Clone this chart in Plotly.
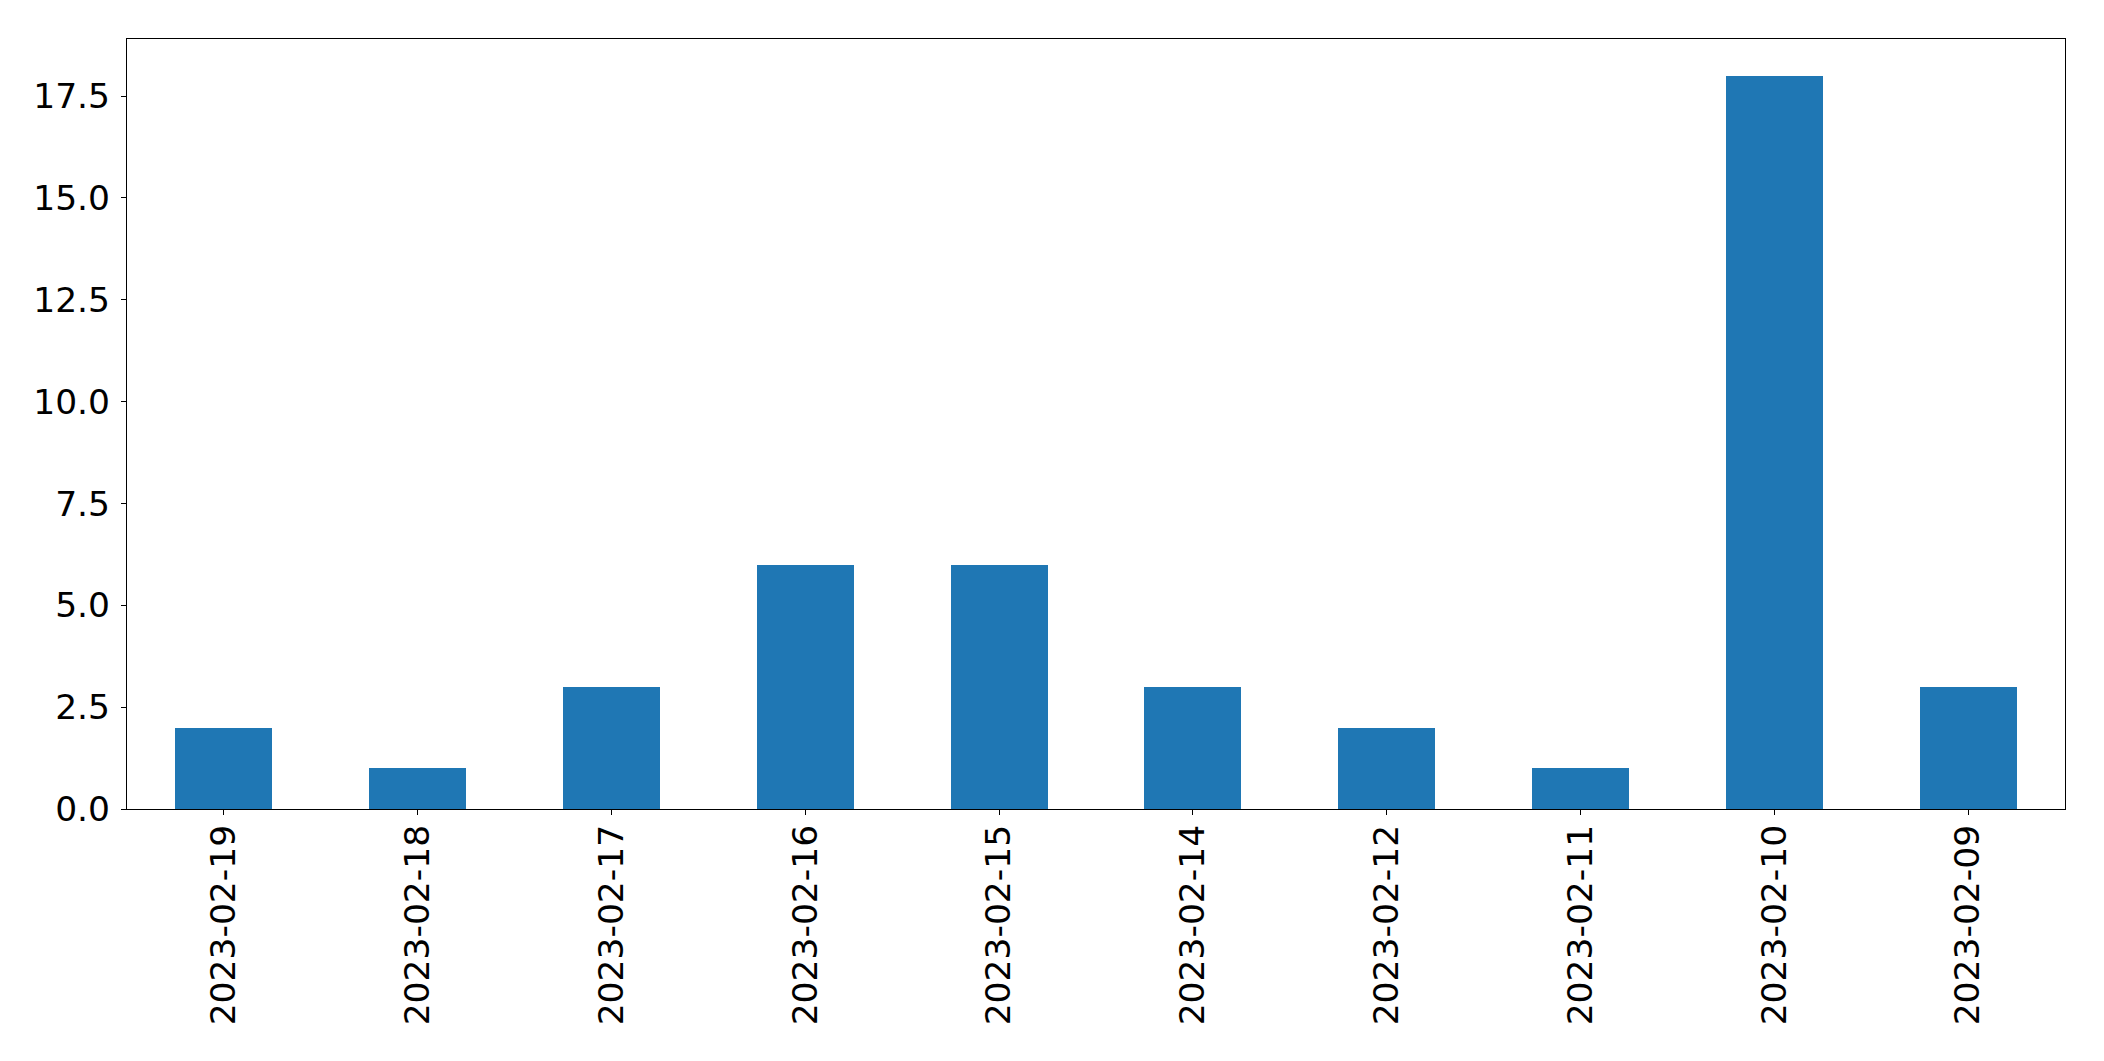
import plotly.graph_objects as go

dates = ["2023-02-19", "2023-02-18", "2023-02-17", "2023-02-16", "2023-02-15",
         "2023-02-14", "2023-02-12", "2023-02-11", "2023-02-10", "2023-02-09"]
counts = [2, 1, 3, 6, 6, 3, 2, 1, 18, 3]
y_ticks = [0.0, 2.5, 5.0, 7.5, 10.0, 12.5, 15.0, 17.5]

fig = go.Figure(go.Bar(x=list(range(len(dates))), y=counts, width=0.5,
                       marker=dict(color="#1f77b4", line=dict(width=0))))

# page body has an 8px default margin, so the figure is 8px smaller on each axis
fig.update_layout(
    width=2096, height=1053,
    margin=dict(l=119, r=39, t=31, b=252, autoexpand=False),
    paper_bgcolor="white", plot_bgcolor="white",
    font=dict(family="DejaVu Sans", size=34.5, color="black"),
    showlegend=False,
    bargap=0,
)
fig.update_xaxes(
    range=[-0.5, len(dates) - 0.5],
    tickmode="array", tickvals=list(range(len(dates))), ticktext=dates,
    tickangle=-90, ticks="outside", ticklen=5, tickwidth=1.1, tickcolor="black",
    showline=True, linecolor="black", linewidth=1.1, mirror=True,
    showgrid=False, zeroline=False, ticklabelstandoff=-4, automargin=False,
)
fig.update_yaxes(
    range=[0, 18.9],
    tickmode="array", tickvals=y_ticks, ticktext=[f"{v:.1f}" for v in y_ticks],
    ticks="outside", ticklen=5, tickwidth=1.1, tickcolor="black",
    showline=True, linecolor="black", linewidth=1.1, mirror=True,
    showgrid=False, zeroline=False, ticklabelstandoff=4, automargin=False,
)
fig.write_html("out.html")
